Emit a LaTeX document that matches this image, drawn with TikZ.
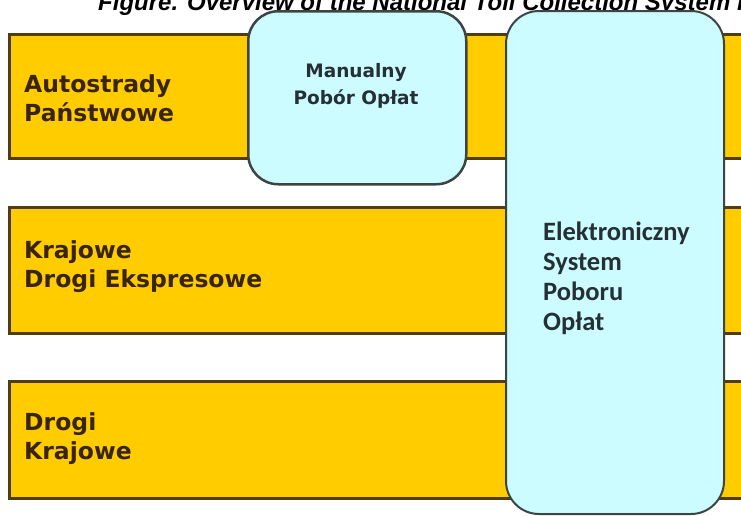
\documentclass[tikz,border=0pt]{standalone}
\usepackage{fontspec}
\setmainfont{DejaVu Sans}
\newfontfamily\carlitofont{Carlito}
\newfontfamily\titlefont{Liberation Sans}
\definecolor{barfill}{RGB}{255,204,0}
\definecolor{barline}{RGB}{80,60,15}
\definecolor{boxfill}{RGB}{204,252,255}
\definecolor{boxline}{RGB}{60,68,68}
\definecolor{bartext}{RGB}{58,36,8}
\definecolor{boxtext}{RGB}{36,48,52}
\begin{document}
\begin{tikzpicture}[x=1pt,y=-1pt,
  bar/.style={draw=barline, fill=barfill, line width=2.5pt, anchor=north west, inner sep=0pt, minimum width=760pt},
  tollbox/.style={draw=boxline, fill=boxfill, line width=2pt, rounded corners=30pt, anchor=north west, inner sep=0pt, minimum width=218pt},
  bartxt/.style={anchor=north west, inner sep=0pt, align=left, text=bartext, font=\bfseries\fontsize{23.5}{29}\selectfont},
  mantxt/.style={anchor=north, inner sep=0pt, align=center, text=boxtext, font=\bfseries\fontsize{18.5}{27}\selectfont},
  eltxt/.style={anchor=north west, inner sep=0pt, align=left, text=boxtext, font=\carlitofont\bfseries\fontsize{26.5}{30}\selectfont},
  titletxt/.style={anchor=base west, inner sep=0pt, font=\titlefont\bfseries\itshape\fontsize{24}{28}\selectfont}]
\useasboundingbox (0,0) rectangle (741,515);
\clip (0,0) rectangle (741,515);
\fill[white] (0,0) rectangle (741,515);
% title (cut off at the top, as in the reference)
\node[titletxt] (title) at (98,10) {Figure. Overview of the National Toll Collection System i};
% road category bars
\node[bar, minimum height=124pt] (bar1) at (8,33) {};
\node[bar, minimum height=126pt] (bar2) at (8,206) {};
\node[bar, minimum height=117pt] (bar3) at (8,380) {};
% toll collection boxes
\node[tollbox, minimum height=173pt, line width=2.5pt] (manual) at (247,10) {};
\node[tollbox, minimum height=503pt, rounded corners=33pt] (etoll) at (505,10) {};
% texts
\node[bartxt] (t1) at (24,74) {Autostrady\\Państwowe};
\node[bartxt] (t2) at (24,240) {Krajowe\\Drogi Ekspresowe};
\node[bartxt] (t3) at (24,412) {Drogi\\Krajowe};
\node[mantxt] (tm) at (356,63) {Manualny\\Pobór Opłat};
\node[eltxt] (te) at (543,222) {Elektroniczny\\System\\Poboru\\Opłat};
\end{tikzpicture}
\end{document}
